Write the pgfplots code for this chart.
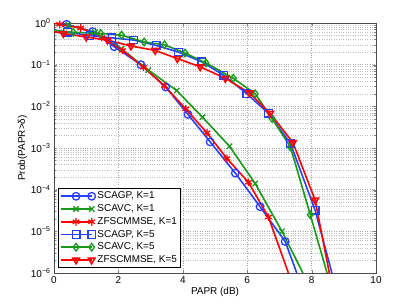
\documentclass[border=0pt]{standalone}
\usepackage{pgfplots}
\pgfplotsset{compat=1.18}
\usepackage{fontspec}
\setmainfont{Liberation Sans}
\usetikzlibrary{calc}
\definecolor{mblue}{rgb}{0.15,0.25,1}
\definecolor{mgreen}{rgb}{0.1,0.6,0.1}
\definecolor{mred}{rgb}{1,0,0}
\begin{document}
\begin{tikzpicture}
\begin{axis}[
  scale only axis, width=322bp, height=250bp,
  xmin=0, xmax=10, ymin=1e-6, ymax=1,
  ymode=log,
  xtick={0,2,4,6,8,10},
  ytick={1e-6,1e-5,1e-4,1e-3,1e-2,1e-1,1},
  yticklabels={10\textsuperscript{−6},10\textsuperscript{−5},10\textsuperscript{−4},10\textsuperscript{−3},10\textsuperscript{−2},10\textsuperscript{−1},10\textsuperscript{0}},
  /pgf/number format/assume math mode=true,
  tick label style={font=\fontsize{10}{11}\selectfont},
  label style={font=\fontsize{10}{11}\selectfont},
  xlabel={PAPR (dB)},
  ylabel={Prob(PAPR>δ)},
  xlabel style={yshift=3pt},
  ylabel style={yshift=-3pt},
  tick align=inside,
  tick pos=both,
  axis line style={gray!60!black, line width=0.7pt},
  major tick length=3.5pt, minor tick length=2pt,
  grid=both,
  major grid style={dotted, gray!70, line width=0.4pt},
  minor grid style={dotted, gray!50, line width=0.4pt},
  minor x tick num=0,
  legend style={at={(0.012,0.02)}, anchor=south west, font=\fontsize{10}{11}\selectfont, draw=black, line width=0.7pt, fill=white, inner sep=1.5pt, row sep=0.3pt},
  legend cell align=left,
  legend image code/.code={\draw[mark repeat=2,mark phase=2,#1] plot coordinates {(0cm,0cm) (0.55cm,0cm) (1.1cm,0cm)};},
  every axis plot/.append style={line width=1.6pt, mark size=3.8pt, mark options={solid, line width=1.3pt}},
]
% SCAGP K=1
\addplot[color=mblue, mark=o, mark indices={2,3,4,5,6,7,8,9,10,11}] coordinates {
(0,0.99) (0.39,0.93) (1.2,0.62) (1.87,0.27) (2.7,0.1) (3.47,0.029) (4.16,0.0064) (4.85,0.0014) (5.63,2.5e-4) (6.4,3.9e-5) (7.18,5.7e-6) (7.54,1e-6)};
\addlegendentry{SCAGP, K=1}
% SCAVC K=1
\addplot[color=mgreen, mark=x, mark indices={2,3,4,5,6,7,8,9,10}] coordinates {
(0,0.99) (0.45,0.89) (1.27,0.6) (2.1,0.24) (2.93,0.074) (3.81,0.024) (4.61,0.0055) (5.45,0.0011) (6.25,1.4e-4) (7.08,1e-5) (7.73,1e-6)};
\addlegendentry{SCAVC, K=1}
% ZFSCMMSE K=1
\addplot[color=mred, mark=asterisk, mark indices={2,3,4,5,6,7,8,9,10,11,12}] coordinates {
(0,0.99) (0.18,0.93) (0.83,0.76) (1.48,0.45) (2.13,0.22) (2.78,0.087) (3.43,0.031) (4.09,0.0087) (4.75,0.0023) (5.37,5.6e-4) (6.04,1.5e-4) (6.66,2.2e-5) (7.28,1e-6)};
\addlegendentry{ZFSCMMSE, K=1}
% SCAGP K=5
\addplot[color=mblue, mark=square, mark indices={2,3,4,5,6,7,8,9,10,11,12,13}] coordinates {
(0,0.68) (0.42,0.6) (1.12,0.5) (1.8,0.44) (2.47,0.39) (3.17,0.29) (3.87,0.2) (4.59,0.117) (5.27,0.056) (5.99,0.02) (6.66,0.0068) (7.34,0.0013) (8.11,3.2e-5) (8.63,1e-6)};
\addlegendentry{SCAGP, K=5}
% SCAVC K=5
\addplot[color=mgreen, mark=diamond, mark indices={2,3,4,5,6,7,8,9,10,11,12,13}] coordinates {
(0,0.66) (0.6,0.6) (1.45,0.56) (2.1,0.51) (2.8,0.35) (3.43,0.3) (4.07,0.19) (4.72,0.11) (5.57,0.047) (6.25,0.02) (6.77,0.0051) (7.34,0.00107) (7.96,2.5e-5) (8.48,1e-6)};
\addlegendentry{SCAVC, K=5}
% ZFSCMMSE K=5
\addplot[color=mred, mark=triangle, mark options={rotate=180}, mark indices={2,3,4,5,6,7,8,9,10,11,12,13}] coordinates {
(0,0.62) (0.29,0.56) (1.0,0.46) (1.66,0.39) (2.39,0.28) (3.14,0.22) (3.83,0.14) (4.54,0.089) (5.32,0.047) (6.07,0.021) (6.71,0.0068) (7.42,0.00135) (8.11,5.6e-5) (8.55,1e-6)};
\addlegendentry{ZFSCMMSE, K=5}
\end{axis}
\path ($(current axis.south west)+(-54bp,-35bp)$) rectangle ($(current axis.north east)+(39bp,23bp)$);
\end{tikzpicture}
\end{document}
